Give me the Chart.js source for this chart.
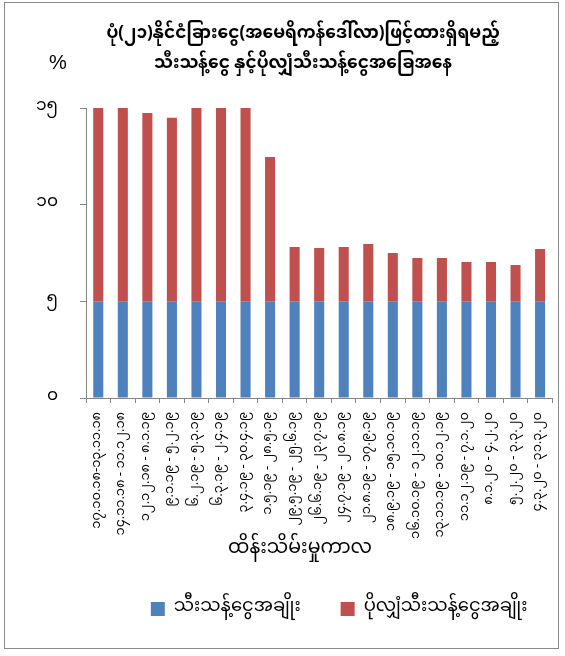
<!DOCTYPE html>
<html><head><meta charset="utf-8">
<script src="https://cdn.jsdelivr.net/npm/chart.js@4.4.0/dist/chart.umd.min.js"></script>
<style>
html,body{margin:0;padding:0;background:#fff;}
#wrap{position:relative;width:565px;height:656px;}
#frame{position:absolute;left:4px;top:2px;width:553px;height:645px;border:1px solid #8a8a8a;pointer-events:none;}
canvas{display:block}
</style></head><body>
<div id="wrap"><canvas id="c" width="565" height="656"></canvas><div id="frame"></div></div>
<script>
const FONT = "'Noto Sans Myanmar','Padauk','Myanmar Text','Pyidaungsu','Noto Sans',sans-serif";

const categories = [
  '၁၇.၁၀.၁၈-၁၃.၁၁.၁၈',
  '၁၄.၁၁.၁၈ - ၁၁.၁၂.၁၈',
  '၁၂.၁၂.၁၈ - ၈.၁.၁၉',
  '၉.၁.၁၉ - ၅.၂.၁၉',
  '၆.၂.၁၉ - ၅.၃.၁၉',
  '၆.၃.၁၉ - ၂.၄.၁၉',
  '၃.၄.၁၉ - ၃၀.၄.၁၉',
  '၁.၅.၁၉ - ၂၈.၅.၁၉',
  '၂၉.၅.၁၉ - ၂၅.၆.၁၉',
  '၂၆.၆.၁၉ - ၂၃.၇.၁၉',
  '၂၄.၇.၁၉ - ၂၀.၈.၁၉',
  '၂၁.၈.၁၉ - ၁၇.၉.၁၉',
  '၁၈.၉.၁၉ - ၁၅.၁၀.၁၉',
  '၁၆.၁၀.၁၉ - ၁၂.၁၁.၁၉',
  '၁၃.၁၁.၁၉ - ၁၀.၁၂.၁၉',
  '၁၁.၁၂.၁၉ - ၇.၁.၂၀',
  '၈.၁.၂၀ - ၄.၂.၂၀',
  '၅.၂.၂၀ - ၃.၃.၂၀',
  '၄.၃.၂၀ - ၃၁.၃.၂၀'
];

const requiredReserve = [5,5,5,5,5,5,5,5,5,5,5,5,5,5,5,5,5,5,5];
const excessReserve = [10.0,10.05,9.74,9.5,10.05,10.05,10.05,7.47,2.81,2.76,2.81,2.97,2.5,2.24,2.24,2.04,2.04,1.88,2.71];

const yTickLabels = ['၀','၅','၁၀','၁၅'];
const seriesNames = ['သီးသန့်ငွေအချိုး','ပိုလျှံသီးသန့်ငွေအချိုး'];
const titleLines = ['ပုံ(၂၁)နိုင်ငံခြားငွေ(အမေရိကန်ဒေါ်လာ)ဖြင့်ထားရှိရမည့်','သီးသန့်ငွေ နှင့်ပိုလျှံသီးသန့်ငွေအခြေအနေ'];
const xTitle = 'ထိန်းသိမ်းမှုကာလ';
const yUnit = '%';

const AXIS = '#868686';

const extraText = {
  id: 'extraText',
  afterLayout(chart) {
    const lg = chart.legend;
    if (lg) { lg.left += 20; lg.right += 20; }
  },
  afterDraw(chart) {
    const {ctx, chartArea, scales} = chart;
    ctx.save();
    ctx.fillStyle = '#000';
    ctx.textAlign = 'center';
    ctx.textBaseline = 'middle';
    ctx.font = 'bold 17px ' + FONT;
    ctx.fillText(titleLines[0], 303, chartArea.top - 72);
    ctx.fillText(titleLines[1], 303, chartArea.top - 42);
    ctx.font = "20px 'Liberation Sans','Noto Sans',sans-serif";
    ctx.fillText(yUnit, scales.y.right - 28, chartArea.top - 45);
    ctx.font = '19px ' + FONT;
    ctx.fillText(xTitle, 300, chartArea.bottom + 153);
    ctx.restore();
  }
};

new Chart(document.getElementById('c'), {
  type: 'bar',
  data: {
    labels: categories,
    datasets: [
      {label: seriesNames[0], data: requiredReserve, backgroundColor: '#4F81BD', borderWidth: 0},
      {label: seriesNames[1], data: excessReserve, backgroundColor: '#C0504D', borderWidth: 0}
    ]
  },
  options: {
    responsive: false,
    animation: false,
    devicePixelRatio: 1,
    datasets: {bar: {barPercentage: 0.41, categoryPercentage: 1}},
    layout: {padding: {left: 20, right: 12, top: 108, bottom: 28}},
    plugins: {
      title: {display: false},
      legend: {
        position: 'bottom',
        fullSize: false,
        labels: {
          color: '#000',
          font: {family: FONT, size: 18},
          boxWidth: 14, boxHeight: 14, padding: 40
        }
      },
      tooltip: {enabled: false}
    },
    scales: {
      x: {
        stacked: true,
        afterFit(scale) { scale.height = 162; },
        border: {color: AXIS, width: 1},
        grid: {drawOnChartArea: false, drawTicks: true, tickLength: 5, color: AXIS, offset: true},
        ticks: {
          color: '#000', font: {family: FONT, size: 13},
          minRotation: 90, maxRotation: 90, autoSkip: false, padding: 9
        }
      },
      y: {
        stacked: true,
        min: 0, max: 15,
        afterFit(scale) { scale.width = 66; },
        border: {color: AXIS, width: 1},
        grid: {drawOnChartArea: false, drawTicks: true, tickLength: 6, color: AXIS},
        ticks: {
          stepSize: 5, color: '#000', font: {family: FONT, size: 17}, padding: 22,
          callback: (v, i) => yTickLabels[i]
        }
      }
    }
  },
  plugins: [extraText]
});
</script>
</body></html>
